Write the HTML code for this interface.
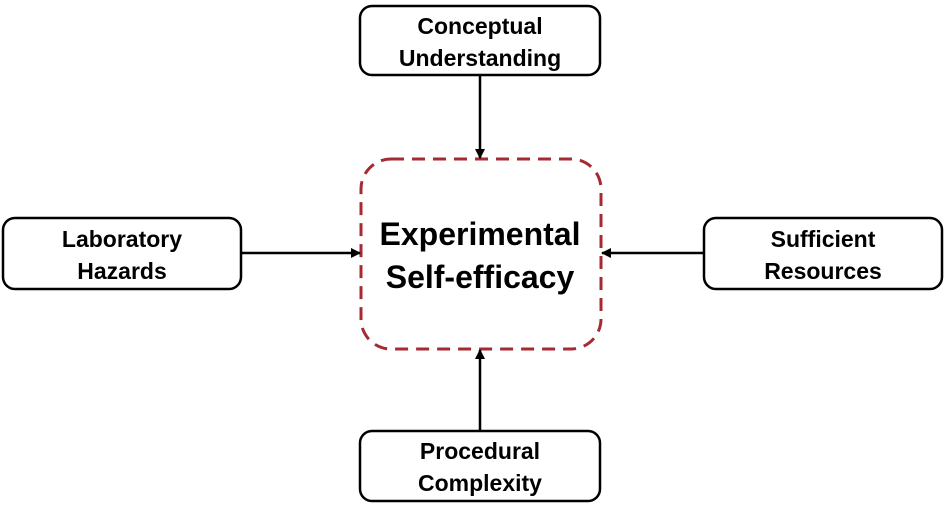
<!DOCTYPE html>
<html><head><style>html,body{margin:0;padding:0;background:#fff}</style></head><body>
<svg width="945" height="517" viewBox="0 0 945 517" xmlns="http://www.w3.org/2000/svg" font-family="Liberation Sans, sans-serif" font-weight="bold">
<defs><marker id="a" markerWidth="10" markerHeight="10" refX="9" refY="5" orient="auto" markerUnits="userSpaceOnUse"><path d="M0,0 L10,5 L0,10 z" fill="#000"/></marker></defs>
<g fill="#fff" stroke="#000" stroke-width="2.5">
<rect x="360" y="6" width="240" height="69" rx="12"/>
<rect x="3" y="218" width="238" height="71" rx="12"/>
<rect x="704" y="218" width="238" height="71" rx="12"/>
<rect x="360" y="431" width="240" height="70" rx="12"/>
</g>
<rect x="361" y="159" width="240" height="190" rx="30" fill="none" stroke="#a52a33" stroke-width="3" stroke-dasharray="13 8"/>
<g stroke="#000" stroke-width="2.5">
<line x1="480" y1="75" x2="480" y2="158" marker-end="url(#a)"/>
<line x1="241" y1="253" x2="360" y2="253" marker-end="url(#a)"/>
<line x1="704" y1="253" x2="602" y2="253" marker-end="url(#a)"/>
<line x1="480" y1="431" x2="480" y2="350" marker-end="url(#a)"/>
</g>
<g font-size="23" text-anchor="middle" fill="#000">
<text x="480" y="34">Conceptual</text><text x="480" y="66">Understanding</text>
<text x="122" y="247">Laboratory</text><text x="122" y="279">Hazards</text>
<text x="823" y="247">Sufficient</text><text x="823" y="279">Resources</text>
<text x="480" y="459">Procedural</text><text x="480" y="491">Complexity</text>
<text x="480" y="245" font-size="32">Experimental</text>
<text x="480" y="288" font-size="32">Self-efficacy</text>
</g>
</svg>
</body></html>
